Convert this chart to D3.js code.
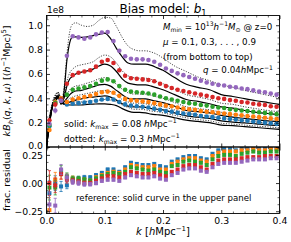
<!DOCTYPE html>
<html>
<head>
<meta charset="utf-8">
<script src="https://cdn.jsdelivr.net/npm/d3@7"></script>
<style>
  body { margin: 0; background: #fff; }
  svg { font-family: "DejaVu Sans", sans-serif; }
</style>
</head>
<body>
<div id="chart"></div>
<script>
// k grid of the measured points and of the model curves
const kPts = [0.005, 0.015, 0.025, 0.035, 0.045, 0.055, 0.065, 0.075, 0.085, 0.095,
  0.105, 0.115, 0.125, 0.135, 0.145, 0.155, 0.165, 0.175, 0.185, 0.195,
  0.205, 0.215, 0.225, 0.235, 0.245, 0.255, 0.265, 0.275, 0.285, 0.295,
  0.305, 0.315, 0.325, 0.335, 0.345, 0.355, 0.365, 0.375, 0.385, 0.395];
const kLine = [0, 0.005, 0.01, 0.015, 0.02, 0.025, 0.03, 0.035, 0.04, 0.045, 0.05,
  0.06, 0.07, 0.08, 0.09, 0.10, 0.11, 0.12, 0.13, 0.14, 0.15, 0.16, 0.17, 0.18, 0.19, 0.20,
  0.22, 0.24, 0.26, 0.28, 0.30, 0.32, 0.34, 0.36, 0.38, 0.40];

const muLabels = ["0.1", "0.3", "0.5", "0.7", "0.9"];
const colors = ["#1f77b4", "#ff7f0e", "#2ca02c", "#d62728", "#9467bd"];

// measured k B_h (units 1e8)
const pts_mu01 = [0.17, 0.37, 0.38, 0.35, 0.355, 0.36, 0.365, 0.37, 0.38, 0.39,
  0.395, 0.39, 0.37, 0.35, 0.34, 0.335, 0.33, 0.325, 0.315, 0.305,
  0.295, 0.29, 0.28, 0.275, 0.27, 0.265, 0.255, 0.25, 0.245, 0.24,
  0.235, 0.23, 0.225, 0.22, 0.215, 0.21, 0.205, 0.20, 0.195, 0.19];
const pts_mu03 = [0.14, 0.37, 0.40, 0.37, 0.39, 0.40, 0.41, 0.42, 0.435, 0.45,
  0.455, 0.445, 0.42, 0.395, 0.385, 0.38, 0.375, 0.37, 0.36, 0.35,
  0.34, 0.335, 0.325, 0.315, 0.31, 0.305, 0.295, 0.29, 0.285, 0.28,
  0.275, 0.27, 0.265, 0.26, 0.255, 0.25, 0.245, 0.24, 0.235, 0.23];
const pts_mu05 = [0.18, 0.36, 0.39, 0.43, 0.47, 0.48, 0.49, 0.50, 0.52, 0.545,
  0.555, 0.54, 0.50, 0.47, 0.455, 0.45, 0.445, 0.44, 0.43, 0.415,
  0.40, 0.39, 0.38, 0.37, 0.36, 0.355, 0.345, 0.34, 0.33, 0.325,
  0.32, 0.31, 0.305, 0.30, 0.295, 0.29, 0.285, 0.28, 0.275, 0.27];
const pts_mu07 = [0.22, 0.35, 0.39, 0.52, 0.59, 0.61, 0.62, 0.63, 0.66, 0.70,
  0.715, 0.69, 0.63, 0.585, 0.565, 0.56, 0.555, 0.55, 0.54, 0.52,
  0.50, 0.485, 0.47, 0.46, 0.45, 0.44, 0.43, 0.42, 0.41, 0.40,
  0.395, 0.385, 0.38, 0.37, 0.365, 0.355, 0.35, 0.345, 0.335, 0.33];
const pts_mu09 = [0.19, 0.30, 0.38, 0.75, 0.91, 0.90, 0.89, 0.90, 0.925, 0.94,
  0.945, 0.87, 0.79, 0.745, 0.725, 0.72, 0.72, 0.715, 0.70, 0.675,
  0.645, 0.625, 0.605, 0.59, 0.575, 0.56, 0.545, 0.53, 0.52, 0.51,
  0.505, 0.495, 0.49, 0.48, 0.475, 0.465, 0.455, 0.45, 0.44, 0.43];
const errUp = [0.02, 0.025, 0.015, 0.012, 0.01, 0.01, 0.009, 0.009, 0.009, 0.008,
  0.008, 0.008, 0.008, 0.008, 0.008, 0.008, 0.008, 0.008, 0.008, 0.008,
  0.008, 0.008, 0.008, 0.008, 0.008, 0.008, 0.008, 0.008, 0.008, 0.008,
  0.008, 0.008, 0.008, 0.008, 0.008, 0.008, 0.008, 0.008, 0.008, 0.008];

// model, solid: kmax = 0.08
const solid_mu01 = [0, 0.19, 0.33, 0.38, 0.40, 0.38, 0.355, 0.35, 0.345, 0.345, 0.345,
  0.345, 0.35, 0.352, 0.355, 0.355, 0.35, 0.34, 0.315, 0.295, 0.285, 0.285, 0.28, 0.27, 0.265, 0.26,
  0.24, 0.22, 0.21, 0.20, 0.18, 0.175, 0.167, 0.16, 0.152, 0.145];
const solid_mu03 = [0, 0.18, 0.33, 0.38, 0.41, 0.37, 0.35, 0.355, 0.37, 0.375, 0.385,
  0.395, 0.405, 0.41, 0.415, 0.42, 0.41, 0.385, 0.355, 0.335, 0.33, 0.33, 0.325, 0.315, 0.31, 0.305,
  0.28, 0.255, 0.245, 0.235, 0.215, 0.205, 0.198, 0.19, 0.182, 0.177];
const solid_mu05 = [0, 0.19, 0.34, 0.39, 0.42, 0.36, 0.37, 0.40, 0.43, 0.45, 0.46,
  0.465, 0.48, 0.495, 0.51, 0.515, 0.50, 0.465, 0.43, 0.40, 0.395, 0.395, 0.395, 0.385, 0.375, 0.365,
  0.335, 0.30, 0.29, 0.28, 0.26, 0.245, 0.235, 0.225, 0.215, 0.21];
const solid_mu07 = [0, 0.20, 0.33, 0.39, 0.42, 0.37, 0.40, 0.50, 0.56, 0.58, 0.60,
  0.615, 0.625, 0.64, 0.665, 0.68, 0.665, 0.62, 0.56, 0.525, 0.515, 0.51, 0.51, 0.50, 0.485, 0.47,
  0.43, 0.39, 0.375, 0.355, 0.33, 0.32, 0.30, 0.285, 0.275, 0.265];
const solid_mu09 = [0, 0.23, 0.33, 0.40, 0.42, 0.35, 0.45, 0.71, 0.86, 0.905, 0.905,
  0.90, 0.905, 0.915, 0.925, 0.935, 0.89, 0.81, 0.74, 0.69, 0.68, 0.68, 0.68, 0.67, 0.65, 0.63,
  0.57, 0.515, 0.49, 0.47, 0.43, 0.415, 0.397, 0.38, 0.365, 0.35];

// model, dotted: kmax = 0.3
const dotted_mu01 = [0, 0.21, 0.35, 0.41, 0.43, 0.41, 0.38, 0.37, 0.37, 0.37, 0.37,
  0.37, 0.375, 0.38, 0.385, 0.39, 0.385, 0.37, 0.345, 0.325, 0.31, 0.31, 0.305, 0.295, 0.29, 0.28,
  0.26, 0.24, 0.225, 0.215, 0.195, 0.188, 0.18, 0.172, 0.165, 0.158];
const dotted_mu03 = [0, 0.20, 0.35, 0.41, 0.44, 0.40, 0.37, 0.38, 0.40, 0.41, 0.42,
  0.43, 0.44, 0.45, 0.46, 0.465, 0.455, 0.425, 0.39, 0.37, 0.36, 0.36, 0.355, 0.345, 0.34, 0.33,
  0.305, 0.28, 0.265, 0.255, 0.235, 0.225, 0.215, 0.205, 0.197, 0.19];
const dotted_mu05 = [0, 0.21, 0.36, 0.42, 0.45, 0.39, 0.40, 0.43, 0.47, 0.49, 0.50,
  0.51, 0.525, 0.54, 0.56, 0.57, 0.555, 0.515, 0.475, 0.445, 0.435, 0.435, 0.435, 0.425, 0.41, 0.40,
  0.365, 0.33, 0.315, 0.305, 0.285, 0.27, 0.255, 0.245, 0.235, 0.23];
const dotted_mu07 = [0, 0.23, 0.35, 0.42, 0.45, 0.40, 0.43, 0.54, 0.61, 0.64, 0.66,
  0.675, 0.685, 0.70, 0.735, 0.755, 0.74, 0.69, 0.625, 0.585, 0.57, 0.565, 0.565, 0.555, 0.535, 0.52,
  0.475, 0.43, 0.41, 0.39, 0.36, 0.35, 0.33, 0.315, 0.30, 0.29];
const dotted_mu09 = [0, 0.24, 0.36, 0.43, 0.45, 0.38, 0.48, 0.76, 0.95, 1.01, 1.02,
  1.00, 0.99, 1.00, 1.04, 1.065, 1.06, 0.99, 0.90, 0.83, 0.80, 0.79, 0.79, 0.78, 0.76, 0.73,
  0.665, 0.62, 0.575, 0.545, 0.51, 0.49, 0.465, 0.445, 0.425, 0.405];

// fractional residual w.r.t. the solid curve
const res_mu01 = [-0.09, 0.00, -0.03, -0.02, 0.03, 0.04, 0.05, 0.05, 0.07, 0.09,
  0.12, 0.12, 0.10, 0.14, 0.18, 0.17, 0.16, 0.16, 0.17, 0.15,
  0.14, 0.19, 0.21, 0.23, 0.24, 0.24, 0.22, 0.21, 0.26, 0.29,
  0.30, 0.30, 0.29, 0.31, 0.31, 0.32, 0.31, 0.31, 0.32, 0.31];
const res_mu03 = [-0.24, 0.03, 0.08, 0.05, 0.04, 0.03, 0.03, 0.02, 0.05, 0.07,
  0.09, 0.10, 0.09, 0.12, 0.16, 0.15, 0.14, 0.14, 0.15, 0.12,
  0.12, 0.17, 0.19, 0.21, 0.22, 0.22, 0.20, 0.19, 0.24, 0.27,
  0.28, 0.28, 0.28, 0.29, 0.29, 0.30, 0.29, 0.29, 0.30, 0.30];
const res_mu05 = [-0.04, -0.04, 0.11, 0.06, 0.04, 0.04, 0.03, 0.02, 0.04, 0.06,
  0.08, 0.09, 0.08, 0.10, 0.14, 0.13, 0.12, 0.11, 0.12, 0.10,
  0.09, 0.15, 0.16, 0.19, 0.20, 0.19, 0.18, 0.16, 0.21, 0.24,
  0.25, 0.25, 0.24, 0.26, 0.27, 0.28, 0.27, 0.27, 0.28, 0.28];
const res_mu07 = [0.00, -0.02, 0.08, 0.03, 0.02, 0.01, 0.00, 0.00, 0.02, 0.04,
  0.06, 0.06, 0.05, 0.08, 0.10, 0.09, 0.08, 0.08, 0.09, 0.07,
  0.06, 0.10, 0.12, 0.15, 0.16, 0.16, 0.14, 0.12, 0.17, 0.20,
  0.21, 0.21, 0.21, 0.22, 0.23, 0.23, 0.23, 0.24, 0.24, 0.24];
const res_mu09 = [-0.19, -0.20, 0.12, 0.05, 0.01, 0.00, -0.01, -0.01, 0.00, 0.02,
  0.03, 0.03, 0.02, 0.05, 0.07, 0.06, 0.05, 0.05, 0.06, 0.04,
  0.03, 0.07, 0.09, 0.12, 0.13, 0.13, 0.11, 0.10, 0.14, 0.17,
  0.18, 0.18, 0.18, 0.19, 0.20, 0.21, 0.21, 0.21, 0.22, 0.22];
const errRes = [0.11, 0.065, 0.045, 0.03, 0.022, 0.02, 0.018, 0.016, 0.015, 0.014,
  0.013, 0.013, 0.012, 0.012, 0.012, 0.011, 0.011, 0.011, 0.011, 0.011,
  0.01, 0.01, 0.01, 0.01, 0.01, 0.01, 0.01, 0.01, 0.01, 0.01,
  0.01, 0.01, 0.01, 0.01, 0.01, 0.01, 0.01, 0.01, 0.01, 0.01];

// tick labels
const xTicks = [0, 0.1, 0.2, 0.3, 0.4];
const xTickLabels = ["0.0", "0.1", "0.2", "0.3", "0.4"];
const yUpTicks = [0, 0.2, 0.4, 0.6, 0.8, 1.0];
const yUpTickLabels = ["0.0", "0.2", "0.4", "0.6", "0.8", "1.0"];
const yLowTicks = [-0.25, 0, 0.25];
const yLowTickLabels = ["\u22120.25", "0.00", "0.25"];

const series = [
  { pts: pts_mu01, solid: solid_mu01, dotted: dotted_mu01, res: res_mu01 },
  { pts: pts_mu03, solid: solid_mu03, dotted: dotted_mu03, res: res_mu03 },
  { pts: pts_mu05, solid: solid_mu05, dotted: dotted_mu05, res: res_mu05 },
  { pts: pts_mu07, solid: solid_mu07, dotted: dotted_mu07, res: res_mu07 },
  { pts: pts_mu09, solid: solid_mu09, dotted: dotted_mu09, res: res_mu09 }
];
series.forEach((s, i) => { s.mu = muLabels[i]; s.color = colors[i]; });

// layout
const W = 291, H = 242;
const xLeft = 46.5, xRight = 279.5, yTop = 15.5, ySplit = 147, yBottom = 213.5;

const svg = d3.select("#chart").append("svg")
  .attr("width", W)
  .attr("height", H);
svg.append("rect").attr("width", W).attr("height", H).attr("fill", "#fff");

const x = d3.scaleLinear().domain([0, 0.4]).range([xLeft, xRight]);
const yUp = d3.scaleLinear().domain([0, 1.08]).range([ySplit, yTop]);
const yLow = d3.scaleLinear().domain([-0.27, 0.32]).range([yBottom, ySplit]);

const defs = svg.append("defs");
defs.append("clipPath").attr("id", "clipUp").append("rect")
  .attr("x", xLeft).attr("y", yTop).attr("width", xRight - xLeft).attr("height", ySplit - yTop);
defs.append("clipPath").attr("id", "clipLow").append("rect")
  .attr("x", xLeft).attr("y", ySplit).attr("width", xRight - xLeft).attr("height", yBottom - ySplit);

// upper panel: model curves
const up = svg.append("g").attr("clip-path", "url(#clipUp)");
const line = d3.line()
  .x((d, i) => x(kLine[i]))
  .y(d => yUp(d))
  .curve(d3.curveMonotoneX);

series.forEach(s => {
  up.append("path").attr("d", line(s.dotted))
    .attr("fill", "none").attr("stroke", "#222")
    .attr("stroke-width", 0.9).attr("stroke-dasharray", "1.1,1.5");
});
series.forEach(s => {
  up.append("path").attr("d", line(s.solid))
    .attr("fill", "none").attr("stroke", "#000").attr("stroke-width", 1.2);
});

// upper panel: measurements
series.forEach(s => {
  const g = up.append("g").attr("fill", s.color).attr("stroke", s.color);
  g.selectAll("line").data(s.pts).join("line")
    .attr("x1", (d, i) => x(kPts[i])).attr("x2", (d, i) => x(kPts[i]))
    .attr("y1", (d, i) => yUp(d - errUp[i])).attr("y2", (d, i) => yUp(d + errUp[i]))
    .attr("stroke-width", 0.8);
  g.selectAll("circle").data(s.pts).join("circle")
    .attr("cx", (d, i) => x(kPts[i]))
    .attr("cy", d => yUp(d))
    .attr("r", 2.3)
    .attr("stroke", "none");
});

// lower panel: residuals
const low = svg.append("g").attr("clip-path", "url(#clipLow)");
series.forEach(s => {
  const g = low.append("g").attr("stroke", s.color).attr("fill", s.color);
  const eb = g.selectAll("g.eb").data(s.res).join("g").attr("class", "eb");
  eb.append("line")
    .attr("x1", (d, i) => x(kPts[i])).attr("x2", (d, i) => x(kPts[i]))
    .attr("y1", (d, i) => yLow(d - errRes[i])).attr("y2", (d, i) => yLow(d + errRes[i]))
    .attr("stroke-width", 0.8);
  [-1, 1].forEach(sign => {
    eb.append("line")
      .attr("x1", (d, i) => x(kPts[i]) - 1.6).attr("x2", (d, i) => x(kPts[i]) + 1.6)
      .attr("y1", (d, i) => yLow(d + sign * errRes[i]))
      .attr("y2", (d, i) => yLow(d + sign * errRes[i]))
      .attr("stroke-width", 0.8);
  });
  g.selectAll("rect").data(s.res).join("rect")
    .attr("x", (d, i) => x(kPts[i]) - 2)
    .attr("y", d => yLow(d) - 2)
    .attr("width", 4).attr("height", 4)
    .attr("stroke", "none");
});

// axes, ticks pointing inward on all sides
function addAxis(axisFn, scale, transform, major, labels, minor) {
  const gm = svg.append("g").attr("transform", transform)
    .call(axisFn(scale).tickValues(minor).tickSize(-2).tickFormat(""));
  gm.select(".domain").remove();
  gm.selectAll("line").attr("stroke", "#000").attr("stroke-width", 0.6);
  const g = svg.append("g").attr("transform", transform)
    .call(axisFn(scale).tickValues(major).tickSize(-3.5).tickPadding(3.5)
      .tickFormat((d, i) => labels ? labels[i] : ""));
  g.select(".domain").remove();
  g.attr("font-size", 9.3).attr("font-family", "DejaVu Sans");
  g.selectAll("line").attr("stroke", "#000").attr("stroke-width", 0.8);
  g.selectAll("text").attr("fill", "#000");
  return g;
}
const notIn = (arr, majors) => arr.filter(v => !majors.some(m => Math.abs(m - v) < 1e-9));
const xMinor = notIn(d3.range(0, 0.4001, 0.02), xTicks);
const yUpMinor = notIn(d3.range(0, 1.0801, 0.05), yUpTicks);
const yLowMinor = notIn(d3.range(-0.25, 0.3201, 0.0625), yLowTicks);

const gUpLeft = addAxis(d3.axisLeft, yUp, `translate(${xLeft},0)`, yUpTicks, yUpTickLabels, yUpMinor);
addAxis(d3.axisRight, yUp, `translate(${xRight},0)`, yUpTicks, null, yUpMinor);
addAxis(d3.axisTop, x, `translate(0,${yTop})`, xTicks, null, xMinor);
addAxis(d3.axisBottom, x, `translate(0,${ySplit})`, xTicks, null, xMinor);
const gLowLeft = addAxis(d3.axisLeft, yLow, `translate(${xLeft},0)`, yLowTicks, yLowTickLabels, yLowMinor);
addAxis(d3.axisRight, yLow, `translate(${xRight},0)`, yLowTicks, null, yLowMinor);
addAxis(d3.axisTop, x, `translate(0,${ySplit})`, xTicks, null, xMinor);
addAxis(d3.axisBottom, x, `translate(0,${yBottom})`, xTicks, xTickLabels, xMinor);

// the two labels at the panel junction sit very close; nudge them apart a little
gUpLeft.selectAll(".tick text").filter(d => d === 0).attr("y", -1.6);
gLowLeft.selectAll(".tick text").filter(d => d === 0.25).attr("y", 1);

// frames
[[yTop, ySplit], [ySplit, yBottom]].forEach(([a, b]) => {
  svg.append("rect").attr("x", xLeft).attr("y", a)
    .attr("width", xRight - xLeft).attr("height", b - a)
    .attr("fill", "none").attr("stroke", "#000").attr("stroke-width", 0.9);
});

// text with italic / sub / superscript parts
function mtext(x0, y0, parts, size, anchor, rotate) {
  const t = svg.append("text")
    .attr("x", x0).attr("y", y0)
    .attr("font-size", size)
    .attr("text-anchor", anchor || "start")
    .attr("fill", "#000");
  if (rotate) t.attr("transform", `rotate(${rotate},${x0},${y0})`);
  let shift = 0;
  parts.forEach(([s, f = ""]) => {
    const target = f.includes("_") ? size * 0.28 : f.includes("^") ? -size * 0.4 : 0;
    const sp = t.append("tspan").attr("dy", target - shift).text(s);
    shift = target;
    if (f.includes("i")) sp.attr("font-style", "italic");
    if (target !== 0) sp.attr("font-size", size * 0.7);
  });
  return t;
}

mtext(163, 12.5, [["Bias model: "], ["b", "i"], ["1", "_"]], 12, "middle");
mtext(47, 13, [["1e8"]], 9, "start");

mtext(10, 81, [["k", "i"], ["B", "i"], ["h", "i_"], ["("], ["q", "i"], [", "], ["k", "i"], [", "], ["\u03bc", "i"],
  [") [("], ["h", "i"], ["\u22121", "^"], ["Mpc)"], ["5", "^"], ["]"]], 9.5, "middle", -90);
mtext(10, 180, [["frac. residual"]], 9.5, "middle", -90);
mtext(163, 234.5, [["k", "i"], [" ["], ["h", "i"], ["Mpc"], ["\u22121", "^"], ["]"]], 10, "middle");

mtext(163, 29.5, [["M", "i"], ["min", "_"], [" = 10"], ["13", "^"], ["h", "i"], ["\u22121", "^"],
  ["M", "i"], ["\u2299", "_"], [" @ z=0"]], 8.7);
mtext(163, 44.5, [["\u03bc", "i"], [" = 0.1, 0.3, . . . , 0.9"]], 8.7);
mtext(163, 59.5, [["(from bottom to top)"]], 8.7);
mtext(273, 73, [["q", "i"], [" = 0.04"], ["h", "i"], ["Mpc"], ["\u22121", "^"]], 8.7, "end");

mtext(64, 126.5, [["solid: "], ["k", "i"], ["max", "_"], [" = 0.08 "], ["h", "i"], ["Mpc"], ["\u22121", "^"]], 8.8);
mtext(64, 141.5, [["dotted: "], ["k", "i"], ["max", "_"], [" = 0.3 "], ["h", "i"], ["Mpc"], ["\u22121", "^"]], 8.8);
mtext(76, 200.5, [["reference: solid curve in the upper panel"]], 8.6);
</script>
</body>
</html>
